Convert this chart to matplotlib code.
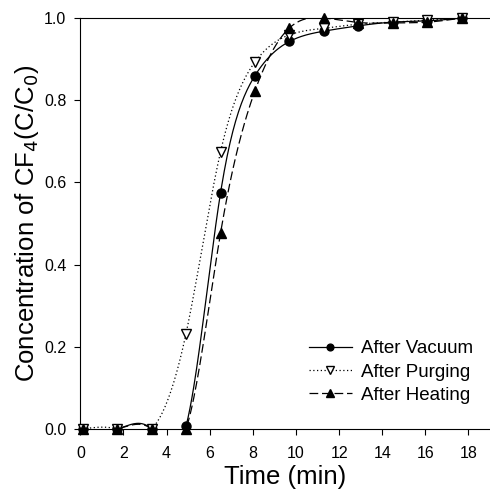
import numpy as np
import matplotlib
matplotlib.use("Agg")
import matplotlib.pyplot as plt

plt.rcParams['font.family'] = ['Liberation Sans', 'DejaVu Sans']

# --- dane ---
time_min = [0.1, 1.7, 3.3, 4.9, 6.5, 8.1, 9.7, 11.3, 12.9, 14.5, 16.1, 17.7]
after_vacuum = [0.0, 0.0, 0.0, 0.007, 0.574, 0.860, 0.943, 0.968, 0.981, 0.990, 0.993, 1.0]
after_purging = [0.0, 0.0, 0.0, 0.232, 0.674, 0.893, 0.959, 0.975, 0.985, 0.990, 0.995, 1.0]
after_heating = [0.0, 0.0, 0.0, 0.0, 0.476, 0.823, 0.976, 1.0, 0.989, 0.988, 0.990, 1.0]


def natural_spline(x, y, n=400):
    # naturalny spline kubiczny (jak w SigmaPlot)
    x = np.asarray(x, float)
    y = np.asarray(y, float)
    m = len(x)
    h = np.diff(x)
    A = np.zeros((m, m))
    b = np.zeros(m)
    A[0, 0] = A[-1, -1] = 1
    for i in range(1, m - 1):
        A[i, i - 1] = h[i - 1]
        A[i, i] = 2 * (h[i - 1] + h[i])
        A[i, i + 1] = h[i]
        b[i] = 6 * ((y[i + 1] - y[i]) / h[i] - (y[i] - y[i - 1]) / h[i - 1])
    M = np.linalg.solve(A, b)
    xs = np.linspace(x[0], x[-1], n)
    idx = np.clip(np.searchsorted(x, xs) - 1, 0, m - 2)
    x0, x1 = x[idx], x[idx + 1]
    hh = x1 - x0
    t0, t1 = x1 - xs, xs - x0
    ys = (M[idx] * t0**3 + M[idx + 1] * t1**3) / (6 * hh) \
        + (y[idx] / hh - M[idx] * hh / 6) * t0 \
        + (y[idx + 1] / hh - M[idx + 1] * hh / 6) * t1
    return xs, ys


fig = plt.figure(figsize=(4.9, 5.0), dpi=100)
ax = fig.add_axes([0.164, 0.142, 0.836, 0.822])

series = [
    ("After Vacuum", after_vacuum, "-", dict(marker="o", mfc="black", ms=6.5)),
    ("After Purging", after_purging, (0, (1, 2)), dict(marker="v", mfc="white", ms=7)),
    ("After Heating", after_heating, (0, (7, 3)), dict(marker="^", mfc="black", ms=7)),
]
for name, vals, ls, mk in series:
    xs, ys = natural_spline(time_min, vals)
    ax.plot(xs, ys, color="black", lw=0.9, ls=ls)
    ax.plot(time_min, vals, ls="none", color="black", mec="black", clip_on=False,
            zorder=3, **mk)
    ax.plot([], [], color="black", lw=0.9, ls=ls, mec="black", label=name, **mk)

ax.set_xlim(0, 19)
ax.set_ylim(0, 1.0)
ax.set_xticks(np.arange(0, 19, 2))
ax.set_yticks(np.arange(0, 1.01, 0.2))
ax.yaxis.set_major_formatter(matplotlib.ticker.FormatStrFormatter("%.1f"))
ax.tick_params(direction="out", length=4, labelsize=11.5, top=False, right=False)
ax.tick_params(axis="x", pad=8)
ax.tick_params(axis="y", pad=6)
ax.spines["right"].set_visible(False)
for s in ["left", "bottom", "top"]:
    ax.spines[s].set_linewidth(0.8)

ax.set_xlabel("Time (min)", fontsize=18.5, labelpad=3)
ax.set_ylabel("Concentration of CF$_4$(C/C$_0$)", fontsize=18.5, labelpad=2)

ax.legend(loc="lower right", frameon=False, fontsize=13.5, handlelength=2.3,
          handletextpad=0.5, bbox_to_anchor=(1.0, 0.02), labelspacing=0.33,
          markerscale=0.75)

fig.savefig("out.png", dpi=100)
